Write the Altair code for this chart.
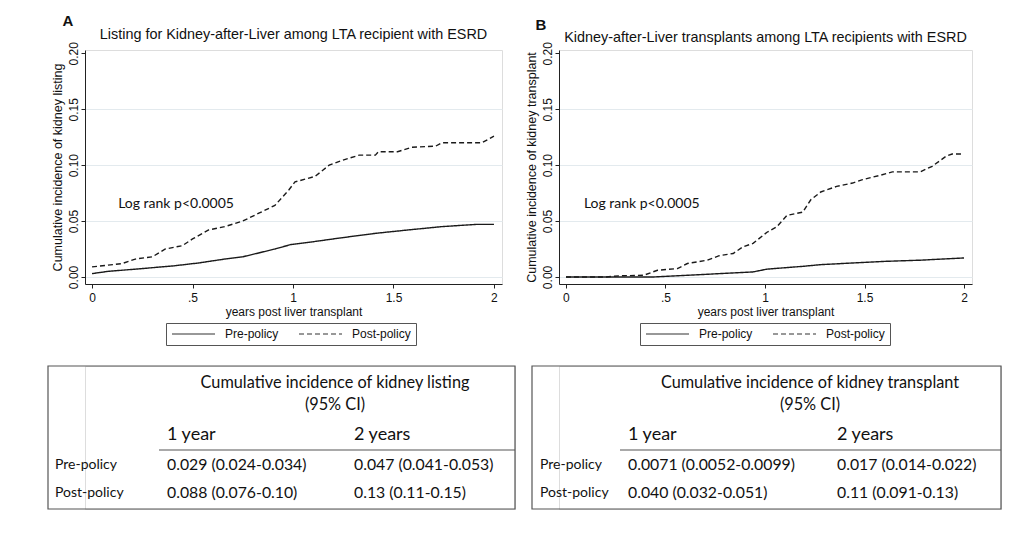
import altair as alt
import pandas as pd

# ---------------- data ----------------
# Panel A: listing for kidney-after-liver
a_pre_x = [0.0, 0.08, 0.25, 0.41, 0.53, 0.66, 0.75, 0.91, 0.99, 1.08, 1.24, 1.41, 1.57, 1.74, 1.91, 2.0]
a_pre_y = [0.003, 0.005, 0.0075, 0.010, 0.0125, 0.016, 0.018, 0.025, 0.029, 0.031, 0.035, 0.039, 0.042, 0.045, 0.047, 0.047]
a_post_x = [0.0, 0.15, 0.215, 0.30, 0.365, 0.45, 0.50, 0.58, 0.66, 0.75, 0.83, 0.91, 0.98, 1.01, 1.11, 1.18,
            1.24, 1.33, 1.41, 1.425, 1.52, 1.59, 1.71, 1.74, 1.94, 2.0]
a_post_y = [0.009, 0.012, 0.016, 0.018, 0.025, 0.028, 0.034, 0.042, 0.045, 0.050, 0.057, 0.064, 0.078, 0.085, 0.090, 0.100,
            0.104, 0.109, 0.109, 0.112, 0.112, 0.116, 0.117, 0.120, 0.120, 0.126]
# Panel B: kidney-after-liver transplants
b_pre_x = [0.0, 0.44, 0.61, 0.94, 1.01, 1.19, 1.28, 1.44, 1.61, 1.78, 2.0]
b_pre_y = [0.0, 0.0, 0.0015, 0.0045, 0.007, 0.0095, 0.011, 0.0125, 0.014, 0.015, 0.017]
b_post_x = [0.0, 0.20, 0.27, 0.39, 0.46, 0.56, 0.61, 0.71, 0.77, 0.84, 0.89, 0.94, 1.01, 1.06, 1.11, 1.19,
            1.23, 1.28, 1.36, 1.44, 1.49, 1.58, 1.64, 1.78, 1.84, 1.91, 1.94, 2.0]
b_post_y = [0.0, 0.0, 0.001, 0.0015, 0.006, 0.0075, 0.012, 0.015, 0.019, 0.021, 0.027, 0.030, 0.040, 0.045, 0.055, 0.058,
            0.069, 0.076, 0.081, 0.084, 0.087, 0.091, 0.094, 0.094, 0.099, 0.108, 0.110, 0.110]

groups = ["Pre-policy", "Post-policy"]
x_ticks = [0, 0.5, 1, 1.5, 2]
y_ticks = [0, 0.05, 0.10, 0.15, 0.20]

panel_letters = ["A", "B"]
panel_titles = ["Listing for Kidney-after-Liver among LTA recipient with ESRD",
                "Kidney-after-Liver transplants among LTA recipients with ESRD"]
y_titles = ["Cumulative incidence of kidney listing", "Cumulative incidence of kidney transplant"]
x_title = "years post liver transplant"
logrank_text = "Log rank p<0.0005"

# tables
table_titles = [["Cumulative incidence of kidney listing", "(95% CI)"],
                ["Cumulative incidence of kidney transplant", "(95% CI)"]]
col_heads = ["1 year", "2 years"]
row_labels = ["Pre-policy", "Post-policy"]
a_1yr = ["0.029 (0.024-0.034)", "0.088 (0.076-0.10)"]
a_2yr = ["0.047 (0.041-0.053)", "0.13 (0.11-0.15)"]
b_1yr = ["0.0071 (0.0052-0.0099)", "0.040 (0.032-0.051)"]
b_2yr = ["0.017 (0.014-0.022)", "0.11 (0.091-0.13)"]

AX_FONT = "Liberation Sans"
TB_FONT = "Lato"
PH = 234  # plot height


def curve_df(pre_x, pre_y, post_x, post_y):
    d1 = pd.DataFrame({"t": pre_x, "ci": pre_y, "group": groups[0]})
    d2 = pd.DataFrame({"t": post_x, "ci": post_y, "group": groups[1]})
    return pd.concat([d1, d2], ignore_index=True)


def panel(df, idx, width, legend_x, letter_x, letter_y, title_y, logrank_x):
    x = alt.X("t:Q", scale=alt.Scale(domain=[-0.035, 2.04], nice=False, zero=False),
              axis=alt.Axis(values=x_ticks, title=x_title, grid=False,
                            labelExpr="datum.value == 0.5 ? '.5' : format(datum.value, '~g')",
                            labelFont=AX_FONT, labelFontSize=12, titleFont=AX_FONT, titleFontSize=12,
                            titleFontWeight="normal", titlePadding=3, tickSize=4, labelPadding=4,
                            domainColor="#222", tickColor="#222", labelColor="#111", titleColor="#111"))
    y = alt.Y("ci:Q", scale=alt.Scale(domain=[-0.0063, 0.203], nice=False, zero=False),
              axis=alt.Axis(values=y_ticks, format=".2f", title=y_titles[idx], grid=True,
                            gridColor="#e3eaee",
                            gridOpacity={"condition": {"test": "datum.value > 0.19", "value": 0}, "value": 1},
                            labelAngle=270, labelAlign="center", labelBaseline="bottom",
                            labelFont=AX_FONT, labelFontSize=12, titleFont=AX_FONT, titleFontSize=12.5,
                            titleFontWeight="normal", titlePadding=3, tickSize=4, labelPadding=1,
                            domainColor="#222", tickColor="#222", labelColor="#111", titleColor="#111"))
    lines = alt.Chart(df).mark_line(strokeWidth=1.4, color="#1a1a1a").encode(
        x=x, y=y,
        detail="group:N",
        strokeDash=alt.StrokeDash(
            "group:N",
            scale=alt.Scale(domain=groups, range=[[1, 0], [5, 3]]),
            legend=alt.Legend(title=None, orient="none", legendX=legend_x, legendY=273,
                              direction="horizontal", symbolType="M-1,0H7.6", symbolSize=100,
                              symbolStrokeColor="#333", symbolStrokeWidth=1.2,
                              labelFont=AX_FONT, labelFontSize=12, labelColor="#111",
                              strokeColor="#555", padding=5, columnPadding=17, labelOffset=42),
        ),
    )
    ann = alt.Chart(pd.DataFrame({"t": [logrank_x], "ci": [0.065], "txt": [logrank_text]})).mark_text(
        align="left", baseline="middle", font=TB_FONT, fontSize=14, color="#111"
    ).encode(x="t:Q", y="ci:Q", text="txt:N")
    letter = alt.Chart(pd.DataFrame({"txt": [panel_letters[idx]]})).mark_text(
        align="center", baseline="middle", font=AX_FONT, fontSize=15, fontWeight="bold", color="#111"
    ).encode(x=alt.value(letter_x), y=alt.value(letter_y), text="txt:N")
    title = alt.Chart(pd.DataFrame({"txt": [panel_titles[idx]]})).mark_text(
        align="center", baseline="middle", font=AX_FONT, fontSize=14.4, color="#111"
    ).encode(x=alt.value(width / 2), y=alt.value(title_y), text="txt:N")
    return alt.layer(lines, ann, letter, title).properties(width=width, height=PH)


def table(idx, width, off, title_cx, col1_x, col2_x, rule_x, lab_x, c1, c2):
    H = 143
    box = alt.Chart(pd.DataFrame({"k": [0]})).mark_rect(fill=None, stroke="#555", strokeWidth=1.2).encode(
        x=alt.value(off), x2=alt.value(off + width), y=alt.value(0), y2=alt.value(H))
    head = alt.Chart(pd.DataFrame({"txt": table_titles[idx], "line": [0, 1]})).mark_text(
        align="center", baseline="middle", font=TB_FONT, fontSize=16.3, color="#111"
    ).encode(x=alt.value(off + title_cx),
             y=alt.Y("line:O", scale=alt.Scale(type="point", range=[17, 39], padding=0), axis=None),
             text="txt:N")
    heads = alt.Chart(pd.DataFrame({"txt": col_heads, "c": [0, 1]})).mark_text(
        align="left", baseline="middle", font=TB_FONT, fontSize=18, color="#111"
    ).encode(x=alt.X("c:O", scale=alt.Scale(type="point", range=[off + col1_x, off + col2_x], padding=0),
                     axis=None),
             y=alt.value(69), text="txt:N")
    rule = alt.Chart(pd.DataFrame({"k": [0]})).mark_rule(stroke="#555", strokeWidth=1.2).encode(
        x=alt.value(off + rule_x), x2=alt.value(off + width), y=alt.value(84))
    ydef = alt.Y("row:N", sort=row_labels,
                 scale=alt.Scale(type="point", domain=row_labels, range=[99, 127], padding=0), axis=None)
    rows = pd.DataFrame({"row": row_labels, "c1": c1, "c2": c2})
    lab = alt.Chart(rows).mark_text(align="left", baseline="middle", font=TB_FONT, fontSize=14, color="#111")
    val = alt.Chart(rows).mark_text(align="left", baseline="middle", font=TB_FONT, fontSize=15.8, color="#111")
    t0 = lab.encode(x=alt.value(off + lab_x), y=ydef, text="row:N")
    t1 = val.encode(x=alt.value(off + col1_x), y=ydef, text="c1:N")
    t2 = val.encode(x=alt.value(off + col2_x), y=ydef, text="c2:N")
    return alt.layer(box, head, heads, rule, t0, t1, t2).properties(width=width + off, height=H).resolve_scale(
        x="independent", y="independent")


df_a = curve_df(a_pre_x, a_pre_y, a_post_x, a_post_y)
df_b = curve_df(b_pre_x, b_pre_y, b_post_x, b_post_y)

pA = panel(df_a, 0, 417, 81, -17, -29, -15, 0.13)
pB = panel(df_b, 1, 413, 81, -18, -25, -12, 0.09)
tA = table(0, 467, -37, 287, 119, 306, 111, 7, a_1yr, a_2yr)
tB = table(1, 469, -27, 278, 96, 305, 88, 8, b_1yr, b_2yr)

chart = alt.hconcat(
    alt.vconcat(pA, tA, spacing=46),
    alt.vconcat(pB, tB, spacing=46),
    spacing=7,
).resolve_scale(strokeDash="independent").resolve_legend(strokeDash="independent").properties(
    padding={"left": 38, "top": 5, "right": 0, "bottom": 0}
).configure_view(stroke=None).configure(background="white")

chart.save("out.html", embed_options={"renderer": "svg", "actions": False})
